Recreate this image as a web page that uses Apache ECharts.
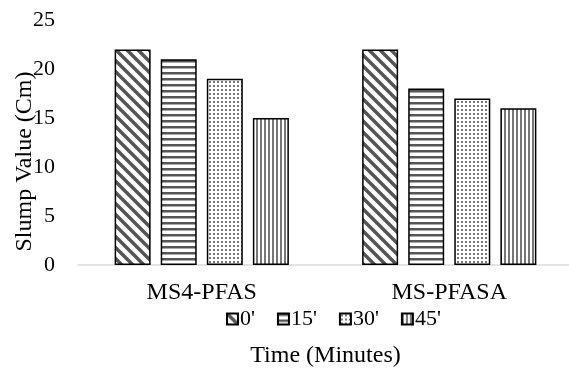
<!DOCTYPE html>
<html>
<head>
<meta charset="utf-8">
<script src="https://cdn.jsdelivr.net/npm/echarts@6/dist/echarts.min.js"></script>
<style>
  html, body { margin: 0; padding: 0; background: #fff; }
  #chart { width: 569px; height: 370px; }
</style>
</head>
<body>
<div id="chart"></div>
<script>
const categories = ['MS4-PFAS', 'MS-PFASA']
const seriesNames = ["0'", "15'", "30'", "45'"]
const slump0 = [22, 22]
const slump15 = [21, 18]
const slump30 = [19, 17]
const slump45 = [15, 16]

const ink = '#555'

function makeTile(w, h, draw) {
  const c = document.createElement('canvas')
  c.width = w
  c.height = h
  const ctx = c.getContext('2d')
  ctx.fillStyle = '#fff'
  ctx.fillRect(0, 0, w, h)
  draw(ctx)
  return { image: c, repeat: 'repeat' }
}

// diagonal "\" stripes
const diag = makeTile(11, 11, (ctx) => {
  ctx.strokeStyle = ink
  ctx.lineWidth = 3.5
  ctx.beginPath()
  ctx.moveTo(-11, 0); ctx.lineTo(11, 22)
  ctx.moveTo(0, 0); ctx.lineTo(11, 11)
  ctx.moveTo(0, -11); ctx.lineTo(22, 11)
  ctx.stroke()
})
// horizontal stripes
const horiz = makeTile(6, 6, (ctx) => {
  ctx.fillStyle = ink
  ctx.fillRect(0, 0, 6, 2.5)
})
// dots
const dots = makeTile(4, 4, (ctx) => {
  ctx.fillStyle = '#777'
  ctx.fillRect(1, 1, 2, 2)
})
// vertical stripes
const vert = makeTile(4, 4, (ctx) => {
  ctx.fillStyle = '#777'
  ctx.fillRect(0, 0, 2, 4)
})

const patterns = [diag, horiz, dots, vert]
const values = [slump0, slump15, slump30, slump45]

const font = 'Liberation Serif'

const chart = echarts.init(document.getElementById('chart'))
chart.setOption({
  animation: false,
  textStyle: { fontFamily: font },
  grid: { left: 78, top: 20, width: 495, height: 245, outerBoundsMode: 'none' },
  legend: {
    top: 303,
    left: 221,
    icon: 'rect',
    itemWidth: 11,
    itemHeight: 11,
    itemGap: 22,
    textStyle: { fontFamily: font, fontSize: 22, color: '#000', padding: [0, 0, 0, -3] }
  },
  xAxis: {
    type: 'category',
    data: categories,
    name: 'Time (Minutes)',
    nameLocation: 'middle',
    nameGap: 79,
    nameMoveOverlap: false,
    nameTextStyle: { fontFamily: font, fontSize: 24, color: '#000' },
    axisLine: { lineStyle: { color: '#d9d9d9', width: 1.5 } },
    axisTick: { show: false },
    axisLabel: { fontFamily: font, fontSize: 24, color: '#000', margin: 16 }
  },
  yAxis: {
    type: 'value',
    min: 0,
    max: 25,
    interval: 5,
    name: 'Slump Value (Cm)',
    nameLocation: 'middle',
    nameGap: 41,
    nameMoveOverlap: false,
    nameTextStyle: { fontFamily: font, fontSize: 24, color: '#000', padding: [0, 38, 0, 0] },
    axisLine: { show: false },
    axisTick: { show: false },
    splitLine: { show: false },
    axisLabel: { fontFamily: font, fontSize: 22, color: '#000', margin: 23 }
  },
  series: seriesNames.map((name, i) => ({
    name,
    type: 'bar',
    data: values[i],
    barWidth: 36,
    barGap: '28%',
    itemStyle: { color: patterns[i], borderColor: '#000', borderWidth: 1.5 }
  }))
})
</script>
</body>
</html>
